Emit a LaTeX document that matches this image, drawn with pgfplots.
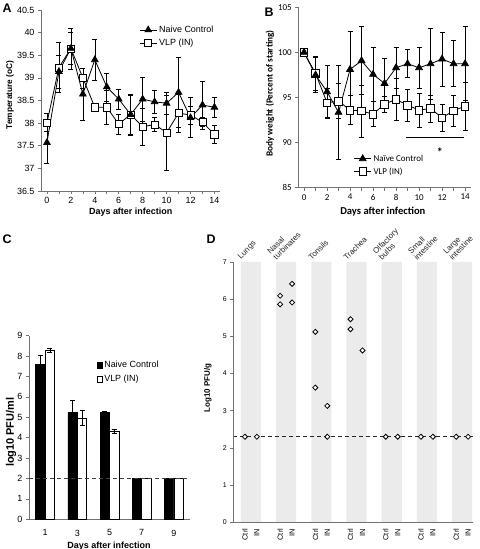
\documentclass[border=0pt]{standalone}
\usepackage{pgfplots}
\pgfplotsset{compat=1.18}
\usepackage{fontspec}
\setmainfont{Liberation Sans}
\newfontfamily\carlito{Carlito}
\pgfplotsset{
  excel/.style={
    scale only axis,
    axis x line*=bottom, axis y line*=left,
    axis line style={draw=black!55, line width=0.9pt, -},
    tick align=outside,
    tick style={draw=black!55, line width=0.6pt},
    major tick length=3bp, minor tick length=3bp,
    /pgf/number format/assume math mode=true,
    clip=false,
  },
  ebar/.style={error bars/.cd, y dir=both, y explicit,
    error bar style={line width=0.6pt, black},
    error mark options={rotate=90, mark size=2.5pt, line width=0.6pt, black}},
}
\begin{document}
\begin{tikzpicture}
\useasboundingbox (0bp,0bp) rectangle (480bp,549bp);

% ---------------- Panel A ----------------
\begin{axis}[excel, at={(41bp,358bp)}, anchor=south west, width=179.4bp, height=181bp,
  xmin=-0.5, xmax=14.5, ymin=36.5, ymax=40.5,
  xtick={0,2,...,14}, minor xtick={1,3,...,13},
  ytick={36.5,37,...,40.5},
  tick label style={font=\fontsize{9}{10}\selectfont},
  xlabel={Days after infection}, ylabel={Temperature (oC)},
  xlabel style={font=\bfseries\fontsize{9}{10}\selectfont, at={(axis description cs:0.5,-0.116)}, anchor=center},
  ylabel style={font=\bfseries\fontsize{8.3}{10}\selectfont, at={(axis description cs:-0.173,0.53)}, anchor=center},
  legend style={at={(axis description cs:0.99,0.935)}, anchor=north east, draw=none, fill=none,
    font=\fontsize{9}{10}\selectfont, row sep=1bp, cells={anchor=west}},
  reverse legend,
]
\addplot[black, line width=0.8pt, mark=square*, mark size=3.6pt, mark options={fill=white, solid, line width=0.7pt}, ebar]
 table[x=x, y=y, y error=e] {
x y e
0 38.01 0.20
1 39.23 0.55
2 39.65 0.35
3 39.00 0.22
4 38.35 0.05
5 38.35 0.38
6 37.98 0.22
7 38.19 0.45
8 37.92 0.40
9 37.97 0.15
10 37.79 0.83
11 38.22 0.42
12 38.18 0.20
13 38.02 0.10
14 37.75 0.20
};
\addlegendentry{VLP (IN)}
\addplot[black, line width=0.8pt, mark=triangle*, mark size=3.8pt, mark options={fill=black, solid}, ebar]
 table[x=x, y=y, y error=e] {
x y e
0 37.57 0.45
1 39.14 0.36
2 39.65 0.45
3 38.64 0.57
4 39.40 0.45
5 38.80 0.31
6 38.53 0.22
7 38.19 0.43
8 38.53 0.48
9 38.47 0.26
10 38.44 0.25
11 38.68 0.77
12 38.12 0.44
13 38.40 0.53
14 38.35 0.23
};
\addlegendentry{Naive Control}
\end{axis}

% ---------------- Panel B ----------------
\begin{axis}[excel, at={(298.3bp,361.3bp)}, anchor=south west, width=172.5bp, height=180.4bp,
  xmin=-0.5, xmax=14.5, ymin=85, ymax=105,
  xtick={0,2,...,14}, minor xtick={1,3,...,13},
  ytick={85,90,...,105},
  tick label style={font=\carlito\fontsize{9}{10}\selectfont},
  xlabel={Days after infection}, ylabel={Body weight (Percent of starting)},
  xlabel style={font=\carlito\bfseries\fontsize{10.6}{12}\selectfont, at={(axis description cs:0.49,-0.133)}, anchor=center},
  ylabel style={font=\carlito\bfseries\fontsize{9.3}{11}\selectfont, at={(axis description cs:-0.164,0.522)}, anchor=center},
  legend style={at={(axis cs:4.05,89.1)}, anchor=north west, draw=none, fill=none,
    font=\carlito\fontsize{9}{10}\selectfont, row sep=1bp, cells={anchor=west}},
  reverse legend,
]
\addplot[black, line width=0.8pt, mark=square*, mark size=3.8pt, mark options={fill=white, solid, line width=0.7pt}, ebar]
 table[x=x, y=y, y error=e] {
x y e
0 100 0
1 97.67 1.85
2 94.42 1.6
3 94.60 1.95
4 93.60 1.6
5 93.50 2.9
6 93.16 1.4
7 94.27 0.9
8 94.79 2.3
9 94.16 1.8
10 93.60 1.85
11 93.79 1.5
12 92.75 1.5
13 93.53 1.7
14 94.05 2.65
};
\addlegendentry{VLP (IN)}
\addplot[black, line width=0.8pt, mark=triangle*, mark size=3.9pt, mark options={fill=black, solid}, ebar]
 table[x=x, y=y, y error=e] {
x y e
0 100 0
1 97.49 1.95
2 95.64 2.9
3 93.35 5.25
4 98.11 4.2
5 99.08 3.77
6 97.56 3.0
7 96.56 2.77
8 98.30 2.25
9 98.74 1.55
10 98.30 2.25
11 98.74 3.96
12 99.26 3.0
13 98.74 2.55
14 98.74 4.1
};
\addlegendentry{Naïve Control}
\draw[black, line width=0.7pt] (axis cs:8.85,90.55) -- (axis cs:13.9,90.55);
\node[font=\carlito\bfseries\fontsize{12}{12}\selectfont] at (axis cs:11.8,88.9) {*};
\end{axis}

% ---------------- Panel C ----------------
\begin{axis}[excel, at={(29bp,29.7bp)}, anchor=south west, width=161bp, height=183.6bp,
  xmin=0, xmax=10, ymin=0, ymax=9,
  xtick={1,3,5,7,9}, ytick={0,...,9},
  xtick style={draw=none},
  tick label style={font=\fontsize{9}{10}\selectfont},
  xticklabel style={yshift=-4bp},
  xlabel={Days after infection}, ylabel={log10 PFU/ml},
  xlabel style={font=\bfseries\fontsize{9}{10}\selectfont, at={(axis description cs:0.497,-0.146)}, anchor=center},
  ylabel style={font=\bfseries\fontsize{11}{12}\selectfont, at={(axis description cs:-0.112,0.474)}, anchor=center},
  legend style={at={(axis cs:4.0,7.95)}, anchor=north west, draw=none, fill=none,
    font=\fontsize{9}{10}\selectfont, row sep=2bp, cells={anchor=west}},
  legend image code/.code={\draw[#1, draw=black, line width=0.5pt] (0bp,-2.6bp) rectangle (5.2bp,2.6bp);},
]
% bars placed at day -/+ half a bar width (bar width 0.586 axis units)
\addplot[ybar, bar width=0.586, fill=black, draw=black, line width=0.5pt, ebar]
 coordinates {(0.707,7.59) +- (0,0.43) (2.707,5.23) +- (0,0.61) (4.707,5.23) +- (0,0.05) (6.707,2) +- (0,0) (8.707,2) +- (0,0)};
\addlegendentry{Naive Control}
\addplot[ybar, bar width=0.586, fill=white, draw=black, line width=0.6pt, ebar]
 coordinates {(1.293,8.28) +- (0,0.09) (3.293,4.96) +- (0,0.36) (5.293,4.33) +- (0,0.10) (7.293,2) +- (0,0) (9.293,2) +- (0,0)};
\addlegendentry{VLP (IN)}
\addplot[black!75, line width=0.9pt, dash pattern=on 4bp off 3bp, forget plot] coordinates {(0,2) (10,2)};
\end{axis}

% ---------------- Panel D ----------------
\begin{axis}[excel, at={(233.3bp,26.7bp)}, anchor=south west, width=239.4bp, height=260.4bp,
  axis on top,
  xmin=-0.5, xmax=6.3, ymin=0, ymax=7,
  ytick={0,...,7},
  xtick={-0.17,0.17,0.83,1.17,1.83,2.17,2.83,3.17,3.83,4.17,4.83,5.17,5.83,6.17},
  xticklabels={Ctrl,IN,Ctrl,IN,Ctrl,IN,Ctrl,IN,Ctrl,IN,Ctrl,IN,Ctrl,IN},
  xtick style={draw=none},
  yticklabel style={font=\fontsize{7}{8}\selectfont},
  xticklabel style={rotate=90, anchor=east, font=\fontsize{7.5}{8}\selectfont},
  ylabel={Log10 PFU/g},
  ylabel style={font=\bfseries\fontsize{8}{9}\selectfont, at={(axis description cs:-0.106,0.516)}, anchor=center},
]
\addplot[ybar, bar width=0.57, fill=black!8, draw=none, forget plot]
 coordinates {(0,7) (1,7) (2,7) (3,7) (4,7) (5,7) (6,7)};
\addplot[black!85, line width=0.9pt, dash pattern=on 4bp off 3bp, forget plot] coordinates {(-0.5,2.3) (6.3,2.3)};
% Ctrl
\addplot[only marks, mark=square*, mark size=1.8pt, mark options={rotate=45, fill=white, draw=black, line width=0.8pt}]
 coordinates {(-0.17,2.3) (0.83,6.09) (0.83,5.86) (1.83,5.12) (1.83,3.62) (2.83,5.46) (2.83,5.19) (3.83,2.3) (4.83,2.3) (5.83,2.3)};
% IN
\addplot[only marks, mark=square*, mark size=1.8pt, mark options={rotate=45, fill=white, draw=black, line width=0.8pt}]
 coordinates {(0.17,2.3) (1.17,6.41) (1.17,5.91) (2.17,3.13) (2.17,2.3) (3.17,4.62) (4.17,2.3) (5.17,2.3) (6.17,2.3)};
\begin{scope}[every node/.style={rotate=45, anchor=south west, align=left, inner sep=0pt,
    font=\fontsize{8}{8.5}\selectfont, text=black!85}]
\node at (axis cs:-0.25,7.03) {Lungs};
\node at (axis cs:0.73,7.03) {Nasal\\turbinates};
\node at (axis cs:1.73,7.03) {Tonsils};
\node at (axis cs:2.73,7.03) {Trachea};
\node at (axis cs:3.73,7.03) {Olfactory\\bulbs};
\node at (axis cs:4.73,7.03) {Small\\intestine};
\node at (axis cs:5.73,7.03) {Large\\intestine};
\end{scope}
\end{axis}

% panel letters
\node[font=\bfseries\fontsize{12.5}{13}\selectfont] at (7bp,540.5bp) {A};
\node[font=\bfseries\fontsize{12.5}{13}\selectfont] at (269bp,537bp) {B};
\node[font=\bfseries\fontsize{12.5}{13}\selectfont] at (7bp,310bp) {C};
\node[font=\bfseries\fontsize{12.5}{13}\selectfont] at (211bp,310bp) {D};
\end{tikzpicture}
\end{document}
